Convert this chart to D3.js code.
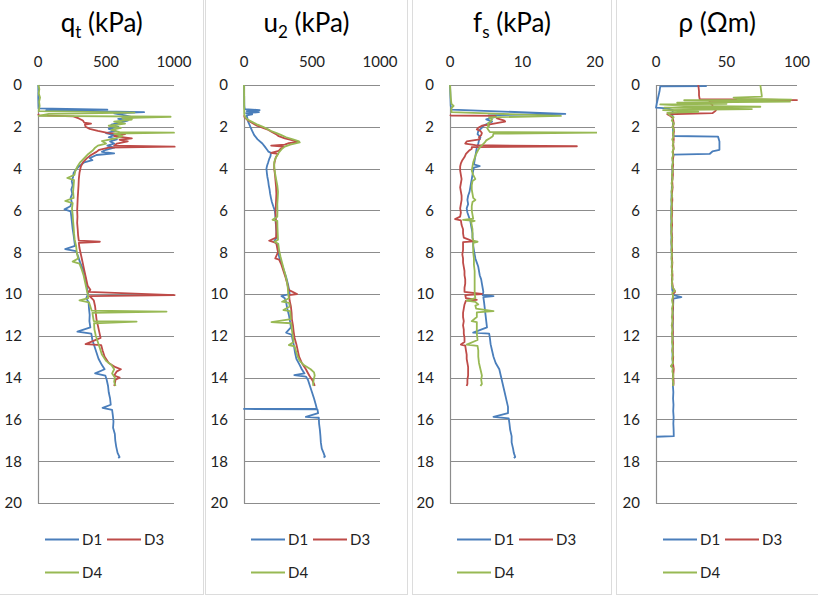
<!DOCTYPE html>
<html><head><meta charset="utf-8">
<script src="https://cdn.jsdelivr.net/npm/d3@7"></script>
<style>body{margin:0;background:#fff}svg{display:block}text{font-family:Lato,"Open Sans",sans-serif}</style>
</head><body><svg id="c" width="818" height="596"></svg>
<script>
// ---- DATA: [depth (m), value] ----
const depthTicks=[0,2,4,6,8,10,12,14,16,18,20];
const seriesNames=["D1","D3","D4"];
const qtTicks=[0,500,1000], u2Ticks=[0,500,1000], fsTicks=[0,10,20], rhoTicks=[0,50,100];

const qtD1=[[0,2],[0.3,3],[0.6,2],[0.9,3],[1.12,4],[1.18,510],[1.22,60],[1.3,780],[1.36,560],[1.45,640],[1.55,700],[1.62,590],[1.7,660],[1.8,600],[1.9,540],[2.0,590],[2.1,520],[2.2,570],[2.3,500],[2.4,560],[2.5,520],[2.6,580],[2.7,530],[2.8,560],[2.9,510],[3.0,560],[3.1,500],[3.2,470],[3.27,560],[3.35,430],[3.5,380],[3.6,400],[3.7,340],[3.8,320],[3.9,300],[4.0,285],[4.2,262],[4.4,258],[4.6,248],[4.8,255],[5.0,245],[5.2,252],[5.4,240],[5.6,248],[5.8,238],[5.95,195],[6.05,240],[6.3,245],[6.6,250],[6.9,255],[7.2,262],[7.5,268],[7.7,272],[7.85,200],[7.95,280],[8.2,295],[8.5,310],[8.8,330],[9.1,345],[9.4,352],[9.7,360],[10.0,368],[10.2,355],[10.4,372],[10.7,375],[11.0,380],[11.3,378],[11.6,385],[11.8,290],[11.9,392],[12.2,400],[12.5,415],[12.8,430],[13.1,445],[13.4,470],[13.6,490],[13.8,420],[13.9,495],[14.1,505],[14.4,515],[14.7,520],[15.0,530],[15.3,535],[15.45,475],[15.55,545],[15.8,550],[16.1,555],[16.4,552],[16.7,565],[17.0,568],[17.3,575],[17.6,585],[17.8,600],[17.85,590]];
const qtD3=[[1.38,2],[1.45,5],[1.5,260],[1.6,300],[1.7,330],[1.8,340],[1.85,390],[1.9,345],[2.0,350],[2.1,380],[2.2,440],[2.3,520],[2.35,640],[2.45,560],[2.55,690],[2.62,600],[2.7,660],[2.8,580],[2.9,560],[2.95,1005],[3.0,520],[3.1,450],[3.2,430],[3.35,390],[3.5,360],[3.7,330],[3.9,315],[4.2,305],[4.5,300],[4.8,298],[5.1,295],[5.4,292],[5.7,290],[6.0,288],[6.3,290],[6.6,288],[6.9,292],[7.2,295],[7.45,300],[7.5,455],[7.55,300],[7.8,305],[8.1,315],[8.4,325],[8.7,335],[9.0,345],[9.3,355],[9.6,365],[9.8,385],[9.9,370],[10.05,1005],[10.1,380],[10.3,410],[10.6,420],[10.9,425],[11.2,430],[11.5,440],[11.8,450],[12.1,460],[12.4,350],[12.45,465],[12.7,475],[13.0,490],[13.3,520],[13.5,570],[13.6,610],[13.7,580],[13.9,560],[14.0,600],[14.1,570],[14.3,565],[14.4,560]];
const qtD4=[[0,3],[0.2,10],[0.4,5],[0.6,15],[0.8,8],[1.0,12],[1.25,5],[1.32,710],[1.38,80],[1.48,5],[1.52,975],[1.58,620],[1.65,690],[1.75,560],[1.85,640],[1.95,520],[2.05,610],[2.15,540],[2.25,600],[2.28,1000],[2.33,560],[2.45,620],[2.55,570],[2.68,470],[2.8,500],[2.9,440],[3.0,420],[3.15,400],[3.3,370],[3.5,340],[3.7,310],[3.9,290],[4.1,275],[4.3,268],[4.45,215],[4.55,265],[4.8,262],[5.1,258],[5.4,262],[5.55,200],[5.65,255],[5.9,250],[6.2,255],[6.5,258],[6.8,262],[7.1,265],[7.4,270],[7.7,280],[8.0,285],[8.3,295],[8.45,255],[8.55,305],[8.8,320],[9.1,335],[9.4,345],[9.7,355],[10.0,365],[10.2,370],[10.3,305],[10.4,375],[10.6,385],[10.8,395],[10.84,945],[10.9,400],[11.1,405],[11.3,410],[11.32,725],[11.4,412],[11.7,415],[12.0,425],[12.3,440],[12.6,455],[12.9,470],[13.2,500],[13.4,540],[13.6,560],[13.8,545],[14.0,565],[14.2,560],[14.4,570]];

const u2D1=[[0,0],[0.5,1],[1.0,2],[1.15,5],[1.2,115],[1.25,20],[1.3,110],[1.35,15],[1.4,60],[1.45,20],[1.6,25],[1.75,30],[1.9,40],[2.05,50],[2.2,60],[2.4,75],[2.6,100],[2.8,135],[2.95,153],[3.1,170],[3.19,180],[3.25,198],[3.4,195],[3.55,185],[3.7,178],[3.85,170],[4.0,165],[4.2,168],[4.4,172],[4.6,178],[4.8,182],[5.0,188],[5.2,192],[5.4,198],[5.6,205],[5.8,215],[6.0,226],[6.2,230],[6.5,232],[6.8,236],[7.0,238],[7.3,240],[7.5,220],[7.6,243],[7.8,247],[8.0,250],[8.3,262],[8.6,280],[8.9,295],[9.2,310],[9.5,322],[9.8,332],[10.0,336],[10.1,275],[10.2,300],[10.4,310],[10.7,318],[11.0,330],[11.3,338],[11.6,345],[11.85,310],[11.95,350],[12.2,358],[12.5,368],[12.8,375],[13.1,385],[13.4,410],[13.6,425],[13.8,445],[13.88,370],[13.95,455],[14.1,470],[14.4,485],[14.7,500],[15.0,515],[15.3,528],[15.48,535],[15.5,0],[15.52,540],[15.7,545],[15.88,455],[15.92,550],[16.2,552],[16.5,558],[16.8,562],[17.1,565],[17.4,572],[17.6,585],[17.78,595],[17.82,585]];
const u2D3=[[1.45,0],[1.55,5],[1.7,30],[1.85,70],[1.95,95],[2.05,140],[2.15,180],[2.25,205],[2.35,235],[2.45,255],[2.55,300],[2.65,360],[2.72,400],[2.78,330],[2.85,300],[2.9,200],[2.95,290],[3.05,270],[3.15,255],[3.25,200],[3.3,250],[3.45,235],[3.6,228],[3.8,222],[4.0,222],[4.3,228],[4.6,232],[4.9,236],[5.2,238],[5.5,236],[5.8,234],[6.1,232],[6.4,234],[6.7,236],[7.0,238],[7.3,236],[7.45,185],[7.55,236],[7.8,245],[8.0,250],[8.3,230],[8.35,258],[8.6,275],[8.9,290],[9.2,305],[9.5,318],[9.8,328],[10.0,390],[10.05,332],[10.3,335],[10.6,345],[10.9,350],[11.2,352],[11.5,360],[11.8,365],[12.1,372],[12.4,385],[12.7,395],[13.0,405],[13.3,425],[13.6,455],[13.9,480],[14.1,500],[14.3,515],[14.4,520]];
const u2D4=[[0,0],[0.5,1],[1.0,1],[1.4,2],[1.55,10],[1.67,30],[1.8,70],[1.9,100],[2.0,140],[2.1,170],[2.2,200],[2.3,240],[2.4,275],[2.5,310],[2.6,360],[2.7,405],[2.75,410],[2.85,340],[2.95,300],[3.05,280],[3.2,260],[3.35,245],[3.5,232],[3.7,222],[3.9,222],[4.2,228],[4.5,236],[4.8,245],[5.1,250],[5.4,248],[5.7,245],[6.0,246],[6.3,245],[6.45,210],[6.5,245],[6.8,246],[7.1,248],[7.4,250],[7.5,225],[7.6,252],[7.9,258],[8.2,268],[8.5,280],[8.8,292],[9.1,305],[9.4,315],[9.7,322],[10.0,325],[10.2,330],[10.37,280],[10.42,332],[10.6,336],[10.77,290],[10.82,340],[11.0,342],[11.2,345],[11.35,202],[11.4,348],[11.7,352],[12.0,358],[12.3,365],[12.44,330],[12.5,372],[12.8,385],[13.0,395],[13.2,410],[13.4,440],[13.6,490],[13.75,515],[13.9,520],[14.1,512],[14.3,508],[14.4,510]];

const fsD1=[[0,0],[0.5,0.05],[1.0,0.1],[1.18,0.2],[1.38,15.9],[1.45,5.3],[1.55,6.0],[1.65,5.0],[1.75,5.8],[1.85,5.2],[1.95,4.6],[2.05,4.4],[2.2,3.9],[2.35,3.8],[2.5,4.2],[2.65,4.0],[2.8,3.9],[3.0,3.7],[3.2,3.6],[3.4,3.5],[3.6,3.4],[3.8,3.3],[3.88,4.1],[3.95,3.3],[4.1,3.2],[4.3,3.1],[4.5,3.0],[4.7,2.9],[4.9,2.8],[5.1,2.7],[5.3,2.5],[5.5,2.4],[5.7,2.5],[5.9,2.3],[6.1,2.4],[6.3,2.6],[6.5,2.8],[6.7,2.9],[6.9,3.0],[7.1,3.1],[7.3,3.1],[7.5,3.2],[7.7,3.2],[7.9,3.3],[8.1,3.4],[8.3,3.5],[8.5,3.7],[8.7,3.9],[8.9,4.0],[9.1,4.1],[9.3,4.3],[9.5,4.4],[9.7,4.5],[9.9,4.6],[10.05,4.5],[10.1,6.0],[10.15,4.6],[10.4,4.7],[10.7,4.8],[11.0,4.9],[11.3,5.0],[11.6,5.1],[11.85,3.2],[11.9,5.4],[12.1,5.5],[12.4,5.6],[12.7,5.8],[13.0,6.0],[13.3,6.3],[13.6,6.8],[13.9,7.0],[14.2,7.2],[14.5,7.4],[14.8,7.6],[15.1,7.8],[15.4,8.0],[15.7,8.0],[15.88,6.0],[15.95,8.1],[16.2,8.2],[16.5,8.3],[16.8,8.5],[17.1,8.5],[17.4,8.7],[17.6,8.8],[17.8,9.0],[17.85,8.8]];
const fsD3=[[1.42,0],[1.46,0.1],[1.48,6.2],[1.6,6.5],[1.7,7.5],[1.75,7.6],[1.8,6.8],[1.88,5.5],[1.95,4.4],[2.05,3.9],[2.12,3.7],[2.2,4.2],[2.3,4.4],[2.4,4.3],[2.5,4.0],[2.6,4.1],[2.7,2.3],[2.8,2.1],[2.88,3.5],[2.93,17.5],[2.97,3.0],[3.05,3.0],[3.15,2.6],[3.3,2.2],[3.45,2.0],[3.6,1.7],[3.75,1.5],[3.9,1.4],[4.1,1.4],[4.3,1.5],[4.5,1.6],[4.7,1.5],[4.9,1.4],[5.1,1.5],[5.3,1.6],[5.5,1.6],[5.7,1.5],[5.9,1.4],[6.1,1.5],[6.3,1.4],[6.42,0.7],[6.48,1.5],[6.7,1.6],[6.9,1.8],[7.1,1.8],[7.3,1.9],[7.48,3.2],[7.52,1.8],[7.7,1.8],[7.9,1.8],[8.1,1.7],[8.3,1.8],[8.5,1.8],[8.7,1.9],[8.9,2.0],[9.1,2.0],[9.3,2.1],[9.5,2.1],[9.7,2.0],[9.9,2.0],[10.0,4.4],[10.05,2.1],[10.2,2.2],[10.28,3.7],[10.32,2.2],[10.5,2.0],[10.7,1.9],[10.9,1.8],[11.1,1.8],[11.3,1.9],[11.5,1.8],[11.7,1.9],[11.9,1.9],[12.1,2.0],[12.3,2.0],[12.42,1.5],[12.47,2.1],[12.7,2.2],[12.9,2.3],[13.1,2.3],[13.3,2.4],[13.5,2.5],[13.7,2.5],[13.9,2.5],[14.1,2.4],[14.3,2.4],[14.4,2.3]];
const fsD4=[[0,0],[0.3,0.05],[0.6,0.1],[0.9,0.2],[1.0,0.5],[1.1,0.2],[1.3,0.2],[1.48,15.3],[1.55,5.4],[1.65,5.8],[1.75,5.6],[1.85,5.2],[1.95,5.4],[2.05,5.1],[2.15,5.3],[2.25,5.5],[2.28,20.3],[2.33,6.0],[2.45,5.9],[2.55,5.5],[2.65,5.0],[2.75,4.8],[2.85,4.5],[2.95,4.2],[3.1,3.9],[3.3,3.6],[3.5,3.4],[3.7,3.2],[3.9,3.1],[4.1,3.0],[4.3,3.2],[4.5,3.5],[4.6,3.1],[4.8,3.0],[5.0,3.0],[5.2,3.1],[5.4,3.2],[5.5,3.5],[5.6,3.1],[5.8,3.0],[6.0,3.0],[6.2,3.1],[6.4,3.2],[6.45,1.8],[6.5,3.4],[6.55,2.9],[6.7,3.0],[6.9,3.1],[7.1,3.1],[7.3,3.1],[7.45,3.2],[7.5,3.8],[7.55,3.2],[7.8,3.2],[8.0,3.2],[8.3,3.3],[8.6,3.3],[8.9,3.4],[9.2,3.4],[9.5,3.4],[9.8,3.4],[10.0,3.4],[10.2,3.5],[10.32,2.3],[10.38,3.5],[10.5,3.9],[10.55,3.5],[10.7,3.6],[10.82,6.0],[10.88,3.7],[11.1,3.7],[11.3,3.0],[11.35,3.7],[11.6,3.7],[11.9,3.7],[12.2,3.8],[12.42,2.3],[12.48,3.8],[12.7,3.9],[13.0,3.9],[13.3,4.0],[13.6,4.2],[13.9,4.4],[14.1,4.3],[14.3,4.4],[14.4,4.2]];

const rhoD1=[[0.05,36],[0.07,3],[0.3,2.5],[0.6,1.5],[0.9,0.5],[1.08,0],[1.12,8],[1.2,12],[1.4,11.5],[1.6,12],[1.8,12.2],[2.0,12.0],[2.2,12.1],[2.44,12.3],[2.47,44],[2.7,45],[2.9,45],[3.1,45],[3.18,40],[3.3,38],[3.33,12.3],[3.5,12],[3.8,11.8],[4.1,11.6],[4.4,11.5],[4.7,11.3],[5.0,11.2],[5.3,11.0],[5.6,11.0],[5.9,10.9],[6.2,10.8],[6.5,10.9],[6.8,10.8],[7.1,11.0],[7.4,10.9],[7.7,11.0],[8.0,11.1],[8.3,11.2],[8.6,11.2],[8.9,11.3],[9.2,11.3],[9.5,11.4],[9.8,11.5],[10.05,12.5],[10.15,18],[10.22,12.3],[10.5,12.2],[10.8,12.0],[11.1,11.8],[11.4,11.9],[11.7,11.8],[12.0,11.8],[12.3,11.7],[12.6,11.8],[12.9,11.7],[13.2,11.8],[13.5,11.9],[13.8,12.0],[14.1,12.2],[14.4,12.0],[14.7,12.3],[15.0,12.1],[15.3,12.4],[15.6,12.2],[15.9,12.5],[16.2,12.3],[16.5,12.5],[16.8,12.6],[16.83,0]];
const rhoD3=[[0,30],[0.3,30.5],[0.5,30.5],[0.68,31],[0.72,100],[0.76,38],[0.85,38],[0.95,40],[1.05,40],[1.15,43],[1.25,42],[1.35,40],[1.4,8],[1.5,10.5],[1.6,12],[1.8,12.5],[2.0,12.2],[2.2,12.8],[2.4,12.3],[2.6,12.6],[2.8,12.2],[3.0,12.5],[3.2,12.0],[3.4,12.4],[3.6,11.8],[3.8,12.2],[4.0,11.7],[4.3,12.0],[4.6,11.5],[4.9,11.8],[5.2,11.3],[5.5,11.6],[5.8,11.2],[6.1,11.5],[6.4,11.1],[6.7,11.4],[7.0,11.0],[7.3,11.5],[7.6,11.1],[7.9,11.4],[8.2,11.2],[8.5,11.6],[8.8,11.3],[9.1,11.7],[9.4,11.4],[9.7,12.0],[9.9,13.5],[10.0,12.2],[10.3,11.8],[10.6,12.1],[10.9,11.7],[11.2,12.0],[11.5,11.6],[11.8,12.0],[12.1,11.7],[12.4,12.1],[12.7,11.8],[13.0,12.2],[13.3,12.0],[13.6,12.6],[13.9,12.2],[14.2,12.5],[14.4,12.3]];
const rhoD4=[[0,74],[0.25,74.5],[0.5,75],[0.56,75],[0.6,55],[0.66,60],[0.7,96],[0.73,20],[0.8,95],[0.84,15],[0.9,50],[0.93,3],[1.0,20],[1.04,74],[1.08,6],[1.15,68],[1.2,5],[1.28,30],[1.33,8],[1.45,10],[1.55,12.5],[1.7,11.2],[1.85,12.8],[2.0,11.6],[2.15,12.9],[2.3,11.9],[2.45,12.6],[2.6,11.5],[2.75,12.4],[2.9,11.8],[3.05,12.7],[3.2,11.6],[3.35,12.3],[3.5,11.4],[3.7,12.1],[3.9,11.3],[4.1,12.0],[4.3,11.2],[4.5,11.8],[4.7,11.0],[4.9,11.6],[5.1,10.9],[5.3,11.5],[5.5,10.8],[5.7,11.3],[5.9,10.7],[6.1,11.2],[6.3,10.7],[6.5,11.3],[6.7,10.6],[6.9,11.2],[7.1,10.7],[7.3,11.3],[7.5,10.8],[7.7,11.4],[7.9,10.8],[8.1,11.4],[8.3,10.9],[8.5,11.5],[8.7,11.0],[8.9,11.6],[9.1,11.1],[9.3,11.7],[9.5,11.2],[9.7,11.9],[9.85,13.5],[9.95,11.5],[10.1,12.2],[10.3,11.4],[10.5,12.0],[10.7,11.3],[10.9,11.9],[11.1,11.2],[11.3,11.8],[11.5,11.1],[11.7,11.8],[11.9,11.2],[12.1,11.9],[12.3,11.3],[12.5,12.0],[12.7,11.4],[12.9,12.1],[13.1,11.5],[13.3,12.2],[13.45,10.5],[13.55,12.0],[13.7,11.6],[13.9,12.3],[14.1,11.8],[14.3,12.4],[14.4,12.0]];

// ---- LAYOUT ----
const colors=["#4A7EBB","#BE4B48","#98B954"];
const panels=[
 {box:[-1,203.5],x0:38,x1:174,ticks:qtTicks,title:["q","t"," (kPa)"],data:[qtD1,qtD3,qtD4]},
 {box:[205.5,407.5],x0:244,x1:380,ticks:u2Ticks,title:["u","2"," (kPa)"],data:[u2D1,u2D3,u2D4]},
 {box:[412.5,611.5],x0:450,x1:595,ticks:fsTicks,title:["f","s"," (kPa)"],data:[fsD1,fsD3,fsD4]},
 {box:[616.5,819],x0:656,x1:797,ticks:rhoTicks,title:["ρ (Ωm)","",""],data:[rhoD1,rhoD3,rhoD4]}
];
const svg=d3.select("#c");
const y=d3.scaleLinear().domain([0,20]).range([85,503]);
const grid="#8c8c8c";

panels.forEach((p,pi)=>{
  const g=svg.append("g");
  g.append("rect").attr("x",p.box[0]).attr("y",-1).attr("width",p.box[1]-p.box[0]).attr("height",595.5)
   .attr("fill","none").attr("stroke","#dcdcdc").attr("stroke-width",1);
  const x=d3.scaleLinear().domain([p.ticks[0],p.ticks[p.ticks.length-1]]).range([p.x0,p.x1]);
  // title
  const cx=(Math.max(p.box[0],0)+Math.min(p.box[1],818))/2;
  const t=g.append("text").attr("x",cx).attr("y",32).attr("text-anchor","middle").attr("font-size",26).attr("fill","#000");
  t.append("tspan").text(p.title[0]);
  if(p.title[1]){
    t.append("tspan").attr("font-size",17).attr("dy",6).text(p.title[1]);
    t.append("tspan").attr("dy",-6).text(p.title[2]);
  }
  // gridlines
  g.selectAll(".gl").data(depthTicks).join("line")
   .attr("x1",p.x0).attr("x2",p.x1).attr("y1",d=>Math.round(y(d))+0.5).attr("y2",d=>Math.round(y(d))+0.5)
   .attr("stroke",grid).attr("stroke-width",1.2);
  g.append("line").attr("x1",p.x0+0.5).attr("x2",p.x0+0.5).attr("y1",y(0)).attr("y2",y(20)+0.5)
   .attr("stroke",grid).attr("stroke-width",1.2);
  // y labels
  g.selectAll(".yl").data(depthTicks).join("text")
   .attr("x",p.x0-16).attr("y",d=>y(d)).attr("dy","0.36em").attr("text-anchor","end")
   .attr("font-size",15).attr("fill","#222").text(d=>d);
  // x labels
  g.selectAll(".xl").data(p.ticks).join("text")
   .attr("x",d=>x(d)).attr("y",62).attr("dy","0.36em").attr("text-anchor","middle")
   .attr("font-size",15).attr("fill","#222").text(d=>d);
  // series
  const clipId="clip"+pi;
  svg.append("clipPath").attr("id",clipId).append("rect").attr("x",p.x0-2).attr("y",y(0)-2).attr("width",p.x1-p.x0+4).attr("height",y(20)-y(0)+4);
  const line=d3.line().x(d=>x(d[1])).y(d=>y(d[0]));
  const sg=g.append("g").attr("clip-path",`url(#${clipId})`);
  p.data.forEach((s,i)=>{
    sg.append("path").datum(s).attr("d",line).attr("fill","none").attr("stroke",colors[i])
      .attr("stroke-width",1.8).attr("stroke-linejoin","round");
  });
  // legend
  const lx=p.x0+7;
  const items=[{n:seriesNames[0],x:lx,y:539.5},{n:seriesNames[1],x:lx+62,y:539.5},{n:seriesNames[2],x:lx,y:572.5}];
  items.forEach((it,i)=>{
    g.append("line").attr("x1",it.x).attr("x2",it.x+34).attr("y1",it.y).attr("y2",it.y).attr("stroke",colors[i]).attr("stroke-width",1.8);
    g.append("text").attr("x",it.x+37).attr("y",it.y).attr("dy","0.36em").attr("font-size",15).attr("fill","#222").text(it.n);
  });
});
</script></body></html>
